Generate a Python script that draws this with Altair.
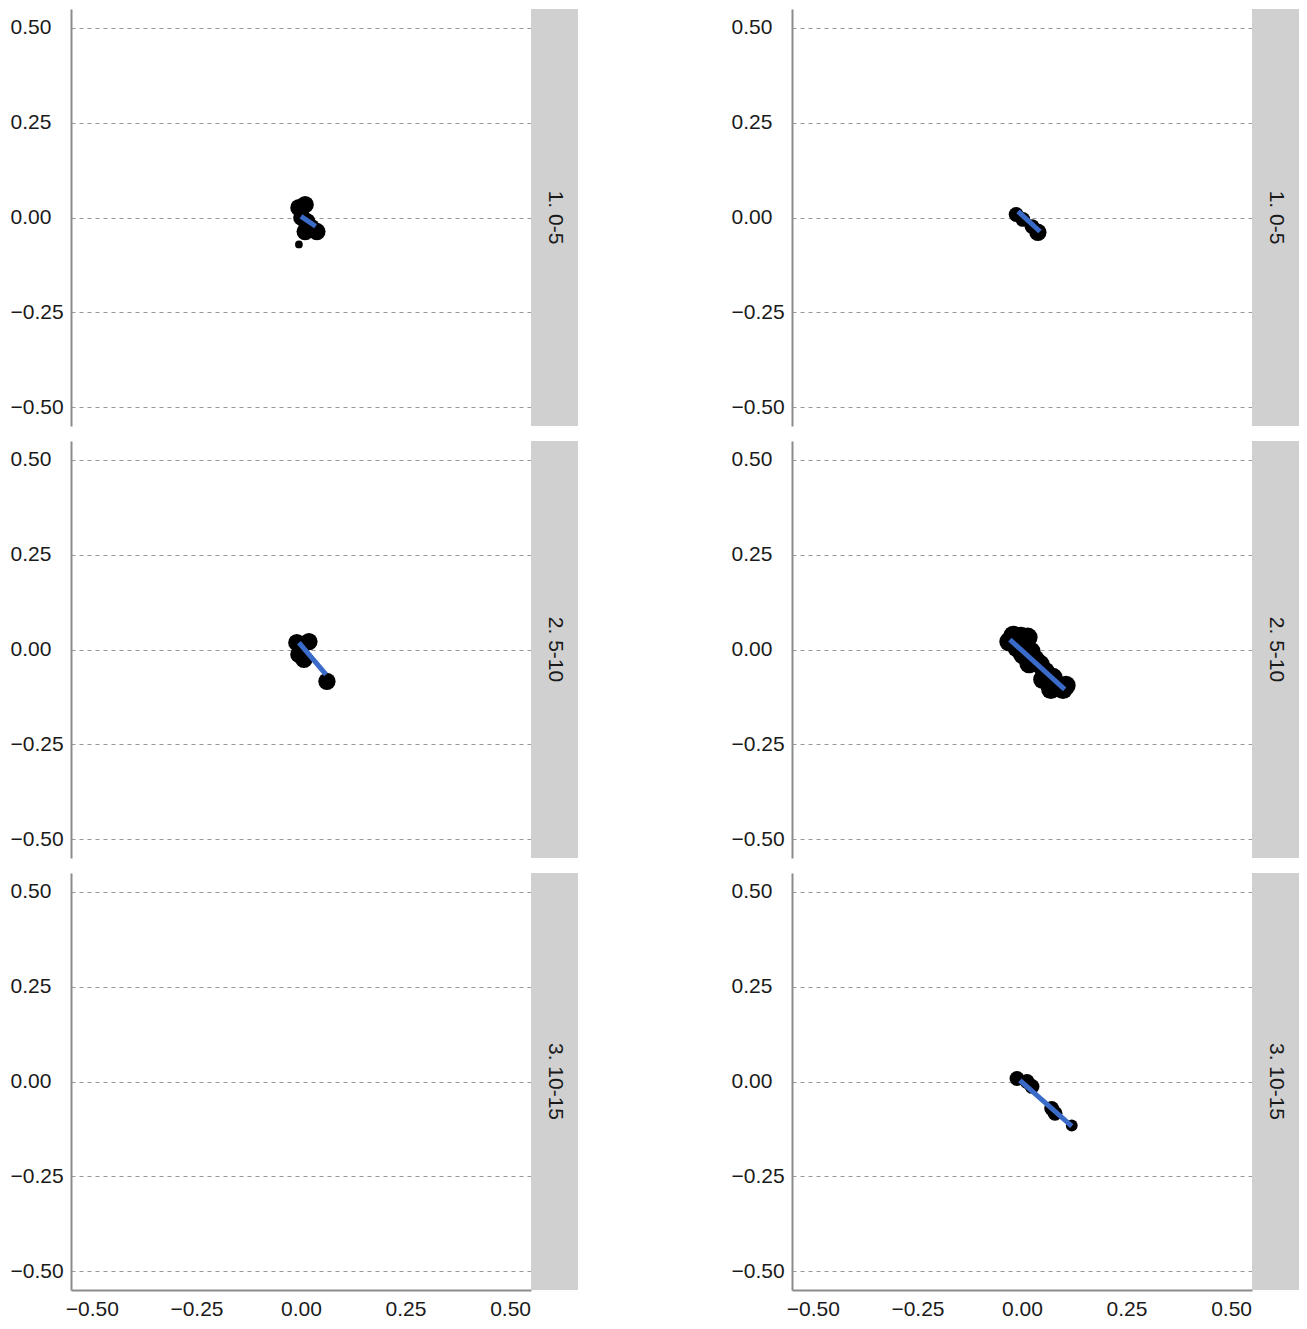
import altair as alt
import pandas as pd

# ---- data ----
ROW_LABELS = ["1. 0-5", "2. 5-10", "3. 10-15"]
TICKS = [-0.5, -0.25, 0.0, 0.25, 0.5]

# left column
X_L1 = [-0.005, 0.010, 0.002, 0.014, 0.024, 0.038, 0.010, -0.005]
Y_L1 = [0.026, 0.034, 0.000, -0.011, -0.026, -0.037, -0.037, -0.071]
W_L1 = [4, 4, 4, 4, 4, 4, 4, 1]
FX_L1 = [0.0, 0.035]
FY_L1 = [0.003, -0.023]

X_L2 = [-0.010, 0.019, 0.000, -0.005, 0.007, 0.062]
Y_L2 = [0.018, 0.021, 0.005, -0.013, -0.026, -0.084]
W_L2 = [4, 4, 4, 4, 4, 4]
FX_L2 = [-0.005, 0.060]
FY_L2 = [0.018, -0.066]

X_L3 = []
Y_L3 = []
W_L3 = []
FX_L3 = []
FY_L3 = []

# right column
X_R1 = [-0.014, 0.002, 0.024, 0.038]
Y_R1 = [0.008, -0.005, -0.024, -0.039]
W_R1 = [3, 3, 3, 4]
FX_R1 = [-0.0095, 0.043]
FY_R1 = [0.016, -0.037]

X_R2 = [-0.031, -0.021, -0.002, 0.014, 0.007, -0.012, 0.002, 0.021, 0.031,
        0.017, 0.043, 0.055, 0.050, 0.074, 0.083, 0.098, 0.069, 0.105]
Y_R2 = [0.021, 0.037, 0.034, 0.032, 0.013, 0.005, -0.013, -0.005, -0.026,
        -0.037, -0.039, -0.058, -0.079, -0.074, -0.095, -0.105, -0.105, -0.095]
W_R2 = [5] * 18
FX_R2 = [-0.029, 0.102]
FY_R2 = [0.026, -0.105]

X_R3 = [-0.012, 0.012, 0.024, 0.071, 0.079, 0.119]
Y_R3 = [0.008, 0.000, -0.013, -0.071, -0.084, -0.116]
W_R3 = [3, 3, 3, 3, 3, 2]
FX_R3 = [-0.005, 0.119]
FY_R3 = [0.003, -0.118]

PANELS = {
    ("L", 0): (X_L1, Y_L1, W_L1, FX_L1, FY_L1),
    ("L", 1): (X_L2, Y_L2, W_L2, FX_L2, FY_L2),
    ("L", 2): (X_L3, Y_L3, W_L3, FX_L3, FY_L3),
    ("R", 0): (X_R1, Y_R1, W_R1, FX_R1, FY_R1),
    ("R", 1): (X_R2, Y_R2, W_R2, FX_R2, FY_R2),
    ("R", 2): (X_R3, Y_R3, W_R3, FX_R3, FY_R3),
}

FONT = "Liberation Sans"
PW, PH, SW = 460, 417, 47
DOMAIN = [-0.55, 0.55]


def make_panel(col, r):
    xs, ys, ws, fx, fy = PANELS[(col, r)]
    pts = pd.DataFrame({"x": xs, "y": ys, "w": ws}, columns=["x", "y", "w"])
    fit = pd.DataFrame({"x": fx, "y": fy}, columns=["x", "y"])
    bottom = r == 2
    xscale = alt.Scale(domain=DOMAIN, nice=False, zero=False)
    yscale = alt.Scale(domain=DOMAIN, nice=False, zero=False)
    if bottom:
        xaxis = alt.Axis(values=TICKS, format=".2f", grid=False, ticks=False,
                         domainColor="#8c8c8c", domainWidth=2, labelFont=FONT,
                         labelFontSize=21, labelColor="#1a1a1a", labelPadding=8,
                         title=None)
        xenc = alt.X("x:Q", scale=xscale, axis=xaxis)
    else:
        xenc = alt.X("x:Q", scale=xscale, axis=None)
    yaxis = alt.Axis(values=TICKS, format=".2f", grid=True, gridDash=[4, 4],
                     gridColor="#999999", gridWidth=1.2, ticks=False,
                     domainColor="#8c8c8c", domainWidth=2, labelFont=FONT,
                     labelFontSize=21, labelColor="#1a1a1a", labelAlign="left",
                     labelPadding=61, title=None)
    yenc = alt.Y("y:Q", scale=yscale, axis=yaxis)

    points = alt.Chart(pts).mark_circle(color="black", opacity=1).encode(
        x=xenc, y=yenc,
        size=alt.Size("w:Q", scale=alt.Scale(domain=[1, 5], range=[60, 380]), legend=None),
    )
    line = alt.Chart(fit).mark_line(color="#3a6bc8", strokeWidth=5).encode(
        x=alt.X("x:Q", scale=xscale), y=alt.Y("y:Q", scale=yscale)
    )
    plot = alt.layer(points, line).properties(width=PW, height=PH)

    lab = pd.DataFrame({"label": [ROW_LABELS[r]]})
    rect = alt.Chart(lab).mark_rect(color="#d0d0d0").encode(
        x=alt.value(0), x2=alt.value(SW), y=alt.value(0), y2=alt.value(PH)
    )
    txt = alt.Chart(lab).mark_text(angle=90, font=FONT, fontSize=21, color="#1a1a1a",
                                   align="center", baseline="middle").encode(
        x=alt.value(SW / 2), y=alt.value(PH / 2), text="label:N"
    )
    strip = alt.layer(rect, txt).properties(width=SW, height=PH)
    return alt.hconcat(plot, strip, spacing=0)


left = alt.vconcat(*[make_panel("L", r) for r in range(3)], spacing=15)
right = alt.vconcat(*[make_panel("R", r) for r in range(3)], spacing=15)

chart = alt.hconcat(left, right, spacing=153).properties(
    padding={"left": 2, "top": 1, "right": 0, "bottom": 0},
    background="white",
).configure_view(strokeWidth=0).resolve_scale(size="independent")

chart.save("out.html", embed_options={"renderer": "svg", "actions": False})
